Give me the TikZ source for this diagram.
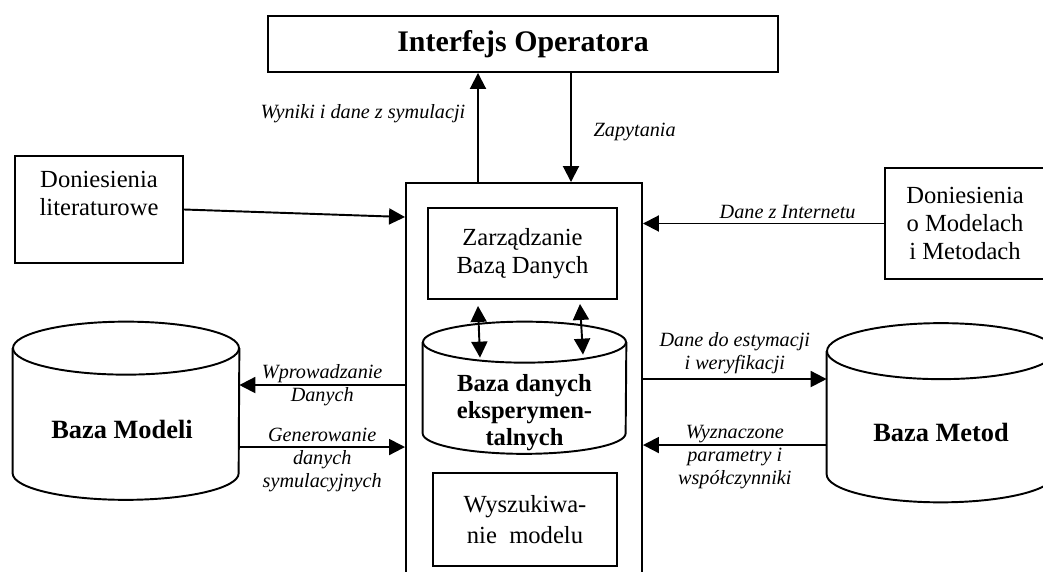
\documentclass[tikz,border=0pt]{standalone}
\usepackage{fontspec}
\setmainfont{Liberation Serif}
\usetikzlibrary{arrows.meta, positioning, calc}

\begin{document}
\begin{tikzpicture}[
    every node/.style={font=\fontsize{14}{15.8}\selectfont},
    box/.style={draw, line width=1.1pt, align=center},
    flow/.style={line width=1.1pt, -{Triangle[length=0.32cm, width=0.32cm]}},
    twoway/.style={line width=1.1pt,
        {Triangle[length=0.32cm, width=0.32cm]}-{Triangle[length=0.32cm, width=0.32cm]}},
    note/.style={font=\fontsize{11.5}{13.3}\selectfont\itshape, align=center, inner sep=1pt},
    dbname/.style={font=\fontsize{15}{15.8}\selectfont\bfseries, align=center},
]

\def\lw{1.1pt}   % line width of every outline

% ================================================================
% Page 20.86 x 11.44 (1 px of the sketch = 0.02 cm, y downwards).
%
%   y = -0.88   operator interface, across the top
%   y = -4.2    the two report boxes, far left and far right
%   y = -8.2    the two model / method drums
% The central column (x 8.12 .. 12.84) runs off the bottom edge.
% Side connectors leave the column at fixed depths below its top.
% ================================================================

\useasboundingbox (0,0) rectangle (20.86,-11.44);

\newcommand{\drum}[5]{%  #1 name, #2 centre, #3 x radius, #4 body height, #5 y radius
  \node[minimum width={2*#3cm}, minimum height=#4cm, inner sep=0pt] (#1) at #2 {};
  \draw[line width=\lw] (#1.north west) -- (#1.south west)
      arc[start angle=180, end angle=360, x radius=#3cm, y radius=#5cm]
      -- (#1.north east);
  \draw[line width=\lw] (#1.north) ellipse[x radius=#3cm, y radius=#5cm];}

% ---------------------------------------------------------------- boxes
\node[box, minimum width=10.2cm, minimum height=1.12cm,
      font=\fontsize{17}{18}\selectfont\bfseries] (iface) at (10.46,-0.88)
    {Interfejs Operatora};

\node[box, minimum width=4.72cm, minimum height=8.74cm] (central) at (10.48,-8.03) {};

\node[box, minimum width=3.36cm, minimum height=2.14cm] (lit) at (1.98,-4.19) {};
\node[below=0.2cm of lit.north, align=center] (littext) {Doniesienia\\literaturowe};

\node[box, minimum width=3.2cm, minimum height=2.22cm] (docs) at (19.3,-4.47)
    {Doniesienia\\o Modelach\\i Metodach};

\node[box, minimum width=3.78cm, minimum height=1.82cm] (zarz) at (10.45,-5.07)
    {Zarządzanie\\Bazą Danych};

\node[box, minimum width=3.68cm, minimum height=1.86cm] (szuk) at (10.5,-10.39)
    {Wyszukiwa-\\[2pt]nie~ modelu};

% ---------------------------------------------------------------- drums
\drum{dbe}{(10.49,-7.755)}{2.03}{1.81}{0.41}
\node[font=\fontsize{14}{15.4}\selectfont\bfseries, align=center] (dbetext)
    at ([yshift=-0.49cm]dbe.center) {Baza danych\\eksperymen-\\talnych};

\drum{bmod}{(2.52,-8.215)}{2.26}{2.49}{0.53}
\node[dbname] (bmodtext) at ([xshift=-0.08cm, yshift=-0.38cm]bmod.center) {Baza Modeli};

\drum{bmet}{(18.82,-8.255)}{2.28}{2.45}{0.56}
\node[dbname] (bmettext) at ([yshift=-0.4cm]bmet.center) {Baza Metod};

% ---------------------------------------------------------------- to and from the operator
\draw[flow] ([xshift=-0.92cm]central.north) -- ([xshift=-0.92cm]central.north |- iface.south)
    node[pos=0.63, left=0.2cm, note] {Wyniki i dane z symulacji};
\draw[flow] ([xshift=0.94cm]central.north |- iface.south) -- ([xshift=0.94cm]central.north)
    node[pos=0.54, right=0.4cm, note] {Zapytania};

% ---------------------------------------------------------------- reports in
\draw[flow] (lit.east) -- ([yshift=-0.7cm]central.north west);
\draw[flow] (docs.west) -- (docs.west -| central.east)
    node[pos=0.4, above=0.05cm, note] {Dane z Internetu};

% ---------------------------------------------------------------- model base
\draw[flow] ([yshift=-4.06cm]central.north west) -- ([yshift=-4.06cm]central.north west -| bmod.east)
    node[midway, note] {Wprowadzanie\\Danych};
\draw[flow] ([yshift=-5.3cm]central.north west -| bmod.east) -- ([yshift=-5.3cm]central.north west)
    node[midway, yshift=-0.26cm, note] {Generowanie\\danych\\symulacyjnych};

% ---------------------------------------------------------------- method base
\draw[flow] ([yshift=-3.94cm]central.north east) -- ([yshift=-3.94cm]central.north east -| bmet.west)
    node[midway, above=0.05cm, note] {Dane do estymacji\\i weryfikacji};
\draw[flow] ([yshift=-5.26cm]central.north east -| bmet.west) -- ([yshift=-5.26cm]central.north east)
    node[midway, yshift=-0.24cm, note] {Wyznaczone\\parametry i\\współczynniki};

% ---------------------------------------------------------------- inside the column
\draw[twoway] ([xshift=-0.89cm, yshift=-0.12cm]zarz.south) -- ([xshift=-0.89cm, yshift=-0.31cm]dbe.north);
\draw[twoway] ([xshift=1.15cm, yshift=-0.08cm]zarz.south) -- ([xshift=1.17cm, yshift=-0.25cm]dbe.north);

\end{tikzpicture}
\end{document}
